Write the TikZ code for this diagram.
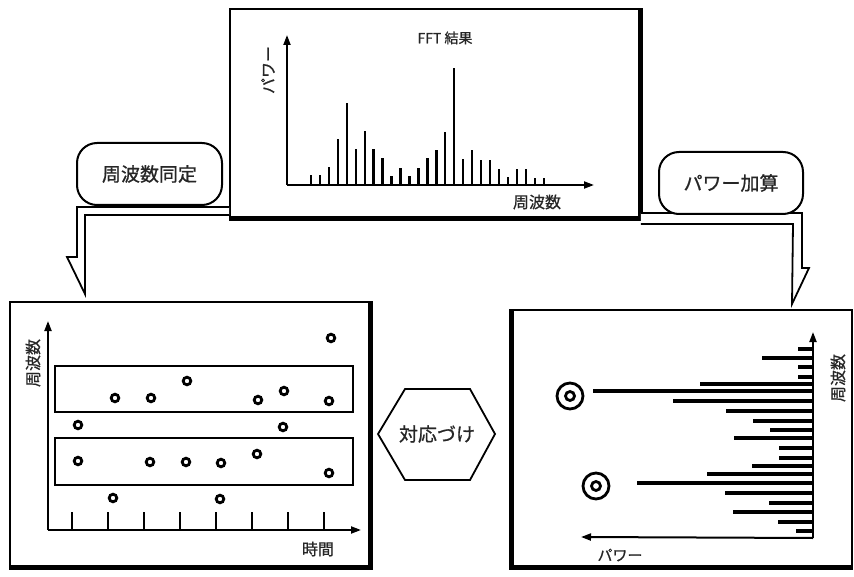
\documentclass[tikz,border=0pt]{standalone}
\usepackage{fontspec}
\setmainfont{Noto Sans CJK JP}[FakeBold=0.8]
\usetikzlibrary{arrows.meta}
\definecolor{ink}{gray}{0.15}
\begin{document}
\begin{tikzpicture}[x=1pt,y=-1pt,
  thin frame/.style={draw,line width=1.8pt},
  heavy/.style={line width=5pt},
  tag/.style={draw,line width=2pt,rounded corners=20pt,
    font=\fontsize{19}{19}\selectfont,text=ink,inner sep=0pt},
  txt/.style={font=\fontsize{16}{16}\selectfont,text=ink,inner sep=0pt},
  axis/.style={line width=2pt,-{Triangle[length=10pt,width=7pt]}},
  hollow/.style={line width=1.8pt,line join=miter},
  bar/.style={line width=2.4pt},
  hbar/.style={line width=4.2pt},
  dot/.style={line width=2.8pt},
  band/.style={draw,line width=1.7pt}]
\useasboundingbox (0,0) rectangle (854,577);

% ---------- FFT panel ----------
\node[thin frame,minimum width=410pt,minimum height=209pt,inner sep=0pt] (fft) at (435,113.5) {};
\draw[heavy] (fft.south west) -- (fft.south east) -- (fft.north east);
\coordinate (o1) at (287,185);
\coordinate (y1) at (287,35);
\coordinate (x1) at (594,185);
\draw[axis] (o1) -- (y1);
\draw[axis] (o1) -- (x1);
\foreach \h [count=\i from 0] in {10,10,18,46,82,36,54,36,27,9,17,9,17,27,35,53,117,26,35,25,25,16,8,16,16,7,7}
  \draw[bar] (311+8.95*\i,185) -- ++(0,-\h);
\node[txt,font=\fontsize{14}{14}\selectfont] (ffttitle) at (445,38) {FFT 結果};
\node[txt,rotate=90] (fftp) at (268,70) {パワー};
\node[txt] (fftf) at (537,202) {周波数};

% ---------- labels and hollow arrows ----------
\draw[hollow,fill=white] (fft.west |- 0,207) -- (77,207) -- (77,257) -- (67,257)
  -- (85,294) -- (85,215) -- (fft.west |- 0,215);
\draw[hollow,fill=white] (fft.east |- 0,213) -- (802,213) -- (802,268) -- (809,268)
  -- (792,304) -- (793,224) -- (fft.east |- 0,224);
\node[tag,fill=white,minimum width=145pt,minimum height=62pt] (ident) at (149.5,174) {周波数同定};
\node[tag,fill=white,minimum width=144pt,minimum height=62pt] (sum) at (731,183) {パワー加算};

% ---------- time-frequency panel ----------
\node[thin frame,minimum width=360pt,minimum height=265pt,inner sep=0pt] (tf) at (190,434.5) {};
\draw[heavy] (tf.north east) -- (tf.south east) -- (tf.south west);
\coordinate (o2) at (48,530);
\coordinate (y2) at (48,321);
\coordinate (x2) at (361,530);
\draw[axis] (o2) -- (y2);
\draw[axis] (o2) -- (x2);
\foreach \k in {0,...,7}
  \draw[line width=1.8pt] (72+36*\k,512) -- (72+36*\k,530);
\draw[band] (55,366) rectangle (353,412);
\draw[band] (55,438) rectangle (353,485);
\foreach \p in {(331,338),(187,381),(115,398),(151,398),(258,400),(284,391),(329,401),
  (78,425),(283,427),(78,461),(150,462),(186,462),(221,463),(257,454),(329,473),
  (113,498),(220,499)}
  \draw[dot] \p circle (3.8);
\node[txt,rotate=90] (tff) at (33,363) {周波数};
\node[txt] (tft) at (318,549) {時間};

% ---------- matching step ----------
\node[txt,font=\fontsize{19}{19}\selectfont] (match) at (437,434) {対応づけ};
\draw[line width=1.8pt] (match) ++(-59,0) -- ++(27,-45) -- ++(65,0) -- ++(25,45)
  -- ++(-25,46) -- ++(-65,0) -- cycle;

% ---------- summed power panel ----------
\node[thin frame,minimum width=340pt,minimum height=257pt,inner sep=0pt] (pw) at (682,438.5) {};
\draw[heavy] (pw.north west) -- (pw.south west) -- (pw.south east);
\coordinate (o3) at (813,538);
\coordinate (y3) at (813,332);
\coordinate (x3) at (581,537);
\draw[axis] (o3) -- (y3);
\draw[axis] (o3) -- (x3);
\foreach \y/\l in {349/798,358/762,367/798,377/798,384/700,391/593,401/673,411/726,
  421/753,430/770,438/734,448/779,458/779,466/752,474/707,483/637,493/725,503/769,
  512/733,522/778,531/796}
  \draw[hbar] (813,\y) -- (\l,\y);
\draw[line width=2.8pt] (570,396) circle (13) (570,396) circle (4.5);
\draw[line width=2.8pt] (596,486) circle (13) (596,486) circle (4.5);
\node[txt,rotate=90] (pwf) at (838,378) {周波数};
\node[txt,font=\fontsize{15}{15}\selectfont] (pwp) at (620,555) {パワー};
\end{tikzpicture}
\end{document}
